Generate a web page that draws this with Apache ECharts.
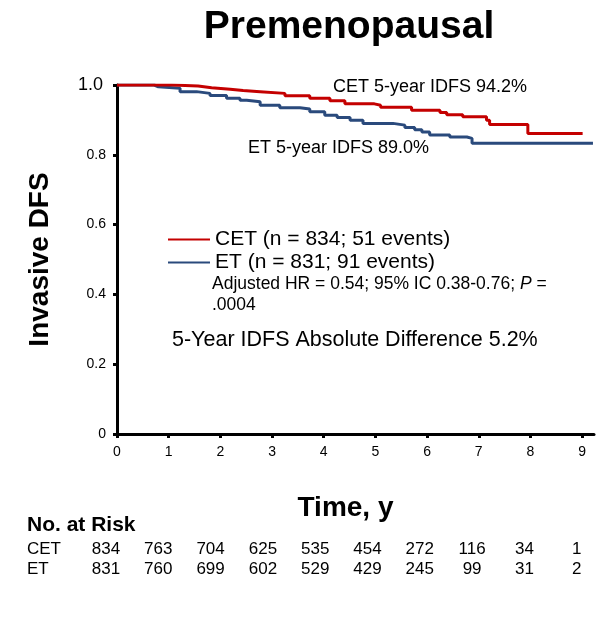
<!DOCTYPE html>
<html>
<head>
<meta charset="utf-8">
<script src="https://cdn.jsdelivr.net/npm/echarts@6/dist/echarts.min.js"></script>
<style>
  html, body { margin: 0; padding: 0; background: #fff; }
  #chart { width: 613px; height: 626px; }
</style>
</head>
<body>
<div id="chart"></div>
<script>
// Kaplan-Meier invasive disease-free survival, premenopausal subgroup
const cetTimes = [0, 1.06, 1.57, 1.83, 2.19, 2.44, 2.77, 3.25, 3.73, 4.12, 4.41, 4.98, 5.10, 5.70, 6.25, 6.38, 6.69, 7.15, 7.21, 7.95, 9.01];
const cetSurv  = [1.0, 0.997, 0.992, 0.988, 0.984, 0.981, 0.976, 0.969, 0.962, 0.955, 0.946, 0.942, 0.936, 0.928, 0.921, 0.915, 0.909, 0.899, 0.887, 0.861, 0.861];

const etTimes = [0, 0.72, 0.80, 1.22, 1.54, 1.80, 2.12, 2.38, 2.51, 2.77, 3.15, 3.54, 3.73, 4.02, 4.26, 4.51, 4.76, 5.34, 5.57, 5.76, 5.90, 6.05, 6.44, 6.77, 6.87, 9.21];
const etSurv  = [1.0, 0.995, 0.991, 0.981, 0.976, 0.970, 0.962, 0.956, 0.952, 0.942, 0.935, 0.931, 0.923, 0.913, 0.907, 0.899, 0.890, 0.885, 0.878, 0.872, 0.865, 0.857, 0.851, 0.847, 0.833, 0.833];

const seriesNames = ['CET (n = 834; 51 events)', 'ET (n = 831; 91 events)'];
const yTickLabels = { 0: '0', 0.2: '0.2', 0.4: '0.4', 0.6: '0.6', 0.8: '0.8', 1: '1.0' };

// Number at risk table
const riskGroups = ['CET', 'ET'];
const riskCET = [834, 763, 704, 625, 535, 454, 272, 116, 34, 1];
const riskET  = [831, 760, 699, 602, 529, 429, 245, 99, 31, 2];

const FONT = "'Liberation Sans', Arial, Helvetica, sans-serif";
const RED = '#C40000';
const BLUE = '#2A4A7C';

function pairs(t, v) { return t.map((x, i) => [x, v[i]]); }

const chart = echarts.init(document.getElementById('chart'), null, { renderer: 'canvas' });

function label(x, y, text, font, extra) {
  return { type: 'text', x: x, y: y, style: Object.assign({ text: text, font: font + ' ' + FONT, fill: '#000', align: 'left', verticalAlign: 'middle' }, extra || {}) };
}

const graphics = [
  label(349, 27, 'Premenopausal', 'bold 39px', { align: 'center' }),
  label(333, 87, 'CET 5-year IDFS 94.2%', '18px'),
  label(248, 148, 'ET 5-year IDFS 89.0%', '18px'),
  label(212, 284, 'Adjusted HR = 0.54; 95% IC 0.38-0.76; {i|P} =', '17.5px', { rich: { i: { fontStyle: 'italic', fontSize: 17.5, fontFamily: FONT } } }),
  label(212, 305, '.0004', '17.5px'),
  label(172, 340, '5-Year IDFS Absolute Difference 5.2%', '21.5px'),
  label(27, 525, 'No. at Risk', 'bold 21px')
];

const riskRows = [riskCET, riskET];
const riskY = [549, 569];
riskRows.forEach((row, r) => {
  graphics.push(label(27, riskY[r], riskGroups[r], '17px'));
  row.forEach((n, i) => {
    graphics.push(label(106 + i * 52.3, riskY[r], String(n), '17px', { align: 'center' }));
  });
});

chart.setOption({
  animation: false,
  backgroundColor: '#fff',
  textStyle: { fontFamily: FONT },
  grid: { left: 117, top: 85, right: 19, bottom: 192, containLabel: false },
  legend: {
    data: seriesNames,
    orient: 'vertical',
    left: 163,
    top: 224,
    itemWidth: 42,
    itemHeight: 2,
    itemGap: 2,
    icon: 'rect',
    textStyle: { fontSize: 21, color: '#000', fontFamily: FONT, lineHeight: 21 },
    selectedMode: false
  },
  xAxis: {
    type: 'value',
    min: 0,
    max: 9.23,
    interval: 1,
    name: 'Time, y',
    nameLocation: 'middle',
    nameGap: 60,
    nameTextStyle: { fontSize: 28, fontWeight: 'bold', color: '#000', fontFamily: FONT, padding: [0, 20, 0, 0] },
    axisLine: { show: true, lineStyle: { color: '#000', width: 3 } },
    axisTick: { show: true, length: 4, lineStyle: { color: '#000', width: 3 } },
    axisLabel: { fontSize: 14, color: '#000', margin: 11, showMaxLabel: false, formatter: v => String(v) },
    splitLine: { show: false }
  },
  yAxis: {
    type: 'value',
    min: 0,
    max: 1,
    interval: 0.2,
    name: 'Invasive DFS',
    nameLocation: 'middle',
    nameRotate: 90,
    nameGap: 63,
    nameTextStyle: { fontSize: 28, fontWeight: 'bold', color: '#000', fontFamily: FONT },
    axisLine: { show: true, lineStyle: { color: '#000', width: 3 } },
    axisTick: { show: true, length: 4, lineStyle: { color: '#000', width: 3 } },
    axisLabel: {
      color: '#000',
      fontSize: 14,
      margin: 11,
      formatter: v => {
        const key = Math.round(v * 10) / 10;
        const s = yTickLabels[key];
        return key === 1 ? '{big|' + s + '}' : s;
      },
      rich: { big: { fontSize: 18, color: '#000', fontFamily: FONT, padding: [0, 3, 0, 0] } }
    },
    splitLine: { show: false }
  },
  series: [
    {
      name: seriesNames[0],
      type: 'line',
      step: 'end',
      showSymbol: false,
      symbol: 'none',
      data: pairs(cetTimes, cetSurv),
      lineStyle: { color: RED, width: 3 },
      itemStyle: { color: RED },
      z: 3
    },
    {
      name: seriesNames[1],
      type: 'line',
      step: 'end',
      showSymbol: false,
      symbol: 'none',
      data: pairs(etTimes, etSurv),
      lineStyle: { color: BLUE, width: 3 },
      itemStyle: { color: BLUE },
      z: 2
    }
  ],
  graphic: graphics
});
</script>
</body>
</html>
